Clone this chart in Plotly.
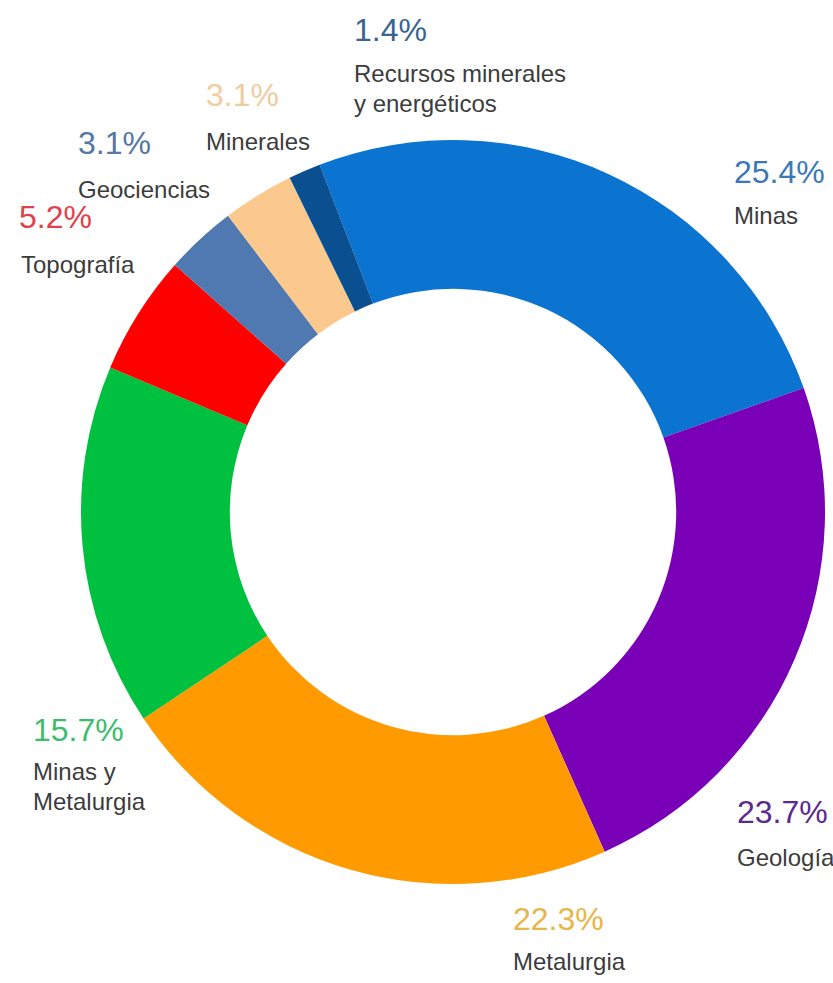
import plotly.graph_objects as go

# Data (clockwise from the top)
categories = ["Minas", "Geología", "Metalurgia", "Minas y Metalurgia",
              "Topografía", "Geociencias", "Minerales",
              "Recursos minerales y energéticos"]
values = [25.4, 23.7, 22.3, 15.7, 5.2, 3.1, 3.1, 1.4]
pct_labels = ["25.4%", "23.7%", "22.3%", "15.7%", "5.2%", "3.1%", "3.1%", "1.4%"]
name_lines = [["Minas"], ["Geología"], ["Metalurgia"], ["Minas y", "Metalurgia"],
              ["Topografía"], ["Geociencias"], ["Minerales"],
              ["Recursos minerales", "y energéticos"]]

slice_colors = ["#0a74d0", "#7a00b8", "#ff9a00", "#00c040",
                "#ff0000", "#4f79b0", "#fbc98e", "#0a4f8f"]
pct_colors = ["#3b78b8", "#5a2a90", "#e8b54a", "#3cbd6e",
              "#e0404a", "#5577a5", "#f0cca2", "#3a6390"]

W, H = 833, 983

# label layout (pixel positions: left x, vertical centre of caps)
pct_pos = [(732, 172), (735, 812), (511, 919), (31, 730),
           (17, 217), (76, 143), (204, 95), (352, 30)]
name_pos = [[(732, 216)], [(735, 857)], [(511, 961)], [(31, 771), (31, 801)],
            [(19, 264)], [(76, 189)], [(204, 142)], [(352, 74), (352, 103)]]

fig = go.Figure(go.Pie(
    labels=categories,
    values=values,
    sort=False,
    direction="clockwise",
    rotation=-21,
    hole=0.6,
    marker=dict(colors=slice_colors, line=dict(width=0)),
    textinfo="none",
    hoverinfo="label+percent",
    showlegend=False,
    domain=dict(x=[81 / W, 825 / W], y=[1 - 884 / H, 1 - 140 / H]),
))

annotations = []
for i in range(len(categories)):
    px, py = pct_pos[i]
    annotations.append(dict(
        x=px / W, y=1 - py / H, xref="paper", yref="paper",
        xanchor="left", yanchor="middle", showarrow=False,
        text=pct_labels[i],
        font=dict(family="Liberation Sans, Arial, sans-serif", size=32, color=pct_colors[i]),
    ))
    for line, (nx, ny) in zip(name_lines[i], name_pos[i]):
        annotations.append(dict(
            x=nx / W, y=1 - ny / H, xref="paper", yref="paper",
            xanchor="left", yanchor="middle", showarrow=False,
            text=line,
            font=dict(family="Liberation Sans, Arial, sans-serif", size=24, color="#3c3c3c"),
        ))

fig.update_layout(
    width=W, height=H,
    margin=dict(l=0, r=0, t=0, b=0),
    paper_bgcolor="white",
    plot_bgcolor="white",
    annotations=annotations,
)

fig.write_html("out.html",
               config={"displayModeBar": False},
               post_script="document.body.style.margin='0';document.body.style.overflow='hidden';")
